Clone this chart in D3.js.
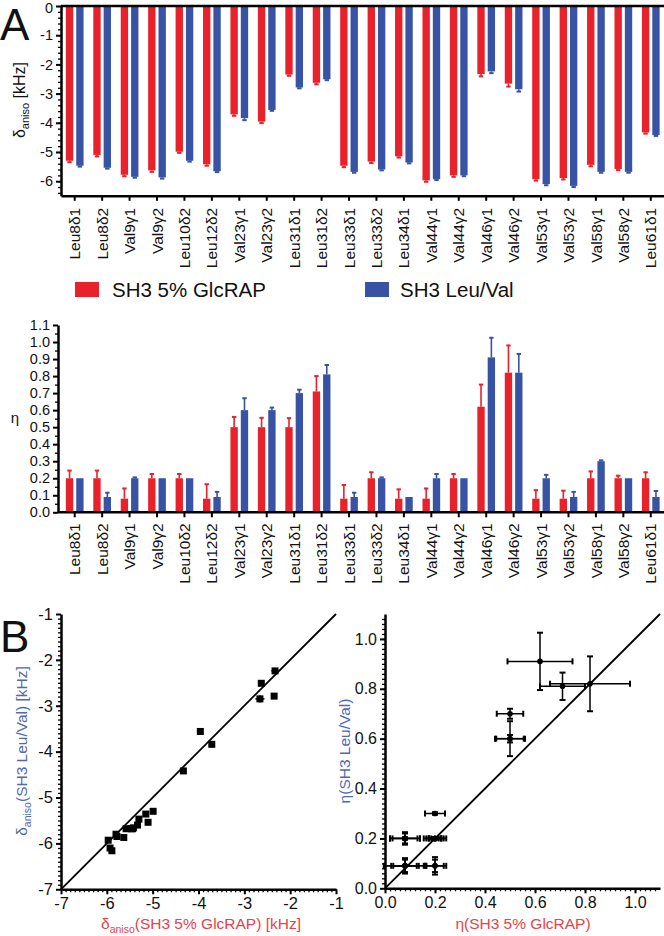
<!DOCTYPE html>
<html><head><meta charset="utf-8">
<script src="https://cdn.jsdelivr.net/npm/d3@7"></script>
<style>
body{margin:0;background:#fff}
svg{display:block}
text{font-family:"Liberation Sans",Arial,Helvetica,sans-serif;fill:#111}
</style>
</head><body><svg id="c" width="664" height="936"></svg>
<script>
// ---------- data ----------
const categories = ["Leu8δ1","Leu8δ2","Val9γ1","Val9γ2","Leu10δ2","Leu12δ2","Val23γ1","Val23γ2","Leu31δ1","Leu31δ2","Leu33δ1","Leu33δ2","Leu34δ1","Val44γ1","Val44γ2","Val46γ1","Val46γ2","Val53γ1","Val53γ2","Val58γ1","Val58γ2","Leu61δ1"];
const seriesNames = ["SH3 5% GlcRAP","SH3 Leu/Val"];
const deltaGlcRAP    = [-5.30,-5.10,-5.78,-5.63,-4.99,-5.42,-3.71,-3.96,-2.35,-2.63,-5.47,-5.33,-5.15,-5.97,-5.80,-2.33,-2.66,-5.93,-5.89,-5.44,-5.58,-4.33];
const deltaGlcRAPErr = [0.05,0.05,0.05,0.05,0.04,0.05,0.05,0.05,0.04,0.05,0.05,0.05,0.04,0.05,0.05,0.08,0.10,0.05,0.05,0.05,0.04,0.04];
const deltaLeuVal    = [-5.47,-5.54,-5.85,-5.87,-5.30,-5.66,-3.84,-3.56,-2.79,-2.51,-5.68,-5.60,-5.36,-5.93,-5.80,-2.24,-2.85,-6.10,-6.16,-5.68,-5.68,-4.42];
const deltaLeuValErr = [0.03,0.03,0.03,0.04,0.03,0.03,0.07,0.03,0.03,0.03,0.03,0.03,0.03,0.03,0.03,0.06,0.08,0.04,0.04,0.03,0.03,0.03];
const etaGlcRAP    = [0.20,0.20,0.08,0.20,0.20,0.08,0.50,0.50,0.50,0.71,0.08,0.20,0.08,0.08,0.20,0.62,0.82,0.08,0.08,0.20,0.20,0.20];
const etaGlcRAPErr = [0.045,0.045,0.06,0.025,0.025,0.085,0.06,0.055,0.053,0.09,0.08,0.035,0.055,0.06,0.025,0.13,0.16,0.05,0.047,0.04,0.015,0.035];
const etaLeuVal    = [0.20,0.09,0.20,0.20,0.20,0.09,0.60,0.60,0.70,0.81,0.09,0.20,0.09,0.20,0.20,0.91,0.82,0.20,0.09,0.30,0.20,0.09];
const etaLeuValErr = [0.0,0.025,0.005,0.0,0.0,0.03,0.07,0.015,0.02,0.055,0.025,0.005,0.0,0.025,0.0,0.115,0.11,0.02,0.03,0.005,0.0,0.035];
const deltaTicks = [0,-1,-2,-3,-4,-5,-6];
const etaTicks = [0.0,0.1,0.2,0.3,0.4,0.5,0.6,0.7,0.8,0.9,1.0,1.1];
const scatterDeltaTicks = [-7,-6,-5,-4,-3,-2,-1];
const scatterEtaTicks = [0.0,0.2,0.4,0.6,0.8,1.0];

// ---------- style ----------
const RED = "#e8212a", BLUE = "#3853a4";
const RED_T = "#e6434a", BLUE_T = "#4f68b3";
const svg = d3.select("#c");
const FS = 14.5;

function styleAxis(g, w){
  g.selectAll("path.domain").attr("stroke","#000").attr("stroke-width",w||2.5);
  g.selectAll(".tick line").attr("stroke","#000").attr("stroke-width",2);
  g.selectAll(".tick text").attr("font-size",FS).attr("fill","#111")
    .attr("font-family","'Liberation Sans',Arial,sans-serif");
}
function minor(g, axisFn, scale, values, size){
  const a = axisFn(scale).tickValues(values).tickSize(size).tickFormat("");
  g.call(a);
  g.select("path.domain").remove();
  g.selectAll(".tick line").attr("stroke","#000").attr("stroke-width",1.3);
}

// ---------- bar charts ----------
const x = d3.scaleBand().domain(categories).range([61, 664.5]).padding(0);
const sub = d3.scaleBand().domain([0,1]).range([0, x.bandwidth()]).paddingInner(0.29).paddingOuter(0.47);
const colors = [RED, BLUE];

function catLabels(g, off){
  g.selectAll(".tick text")
    .attr("transform","rotate(-90)")
    .attr("text-anchor","end")
    .attr("x",-off).attr("y",0).attr("dy","0.36em")
    .attr("font-size",15.5);
}

// top (delta)
const yD = d3.scaleLinear().domain([-6.5, 0]).range([195.8, 6]);
const topData = [[deltaGlcRAP, deltaGlcRAPErr],[deltaLeuVal, deltaLeuValErr]];
const gTop = svg.append("g");
topData.forEach(([vals, errs], s) => {
  const g = gTop.append("g");
  categories.forEach((c, i) => {
    const x0 = x(c) + sub(s), w = sub.bandwidth(), cx = x0 + w/2;
    g.append("rect").attr("x", x0).attr("y", yD(0)).attr("width", w)
      .attr("height", yD(vals[i]) - yD(0)).attr("fill", colors[s]);
    const e = yD(vals[i] - errs[i]);
    g.append("line").attr("x1",cx).attr("x2",cx).attr("y1",yD(vals[i])).attr("y2",e)
      .attr("stroke",colors[s]).attr("stroke-width",1.6);
    g.append("line").attr("x1",cx-2.2).attr("x2",cx+2.2).attr("y1",e).attr("y2",e)
      .attr("stroke",colors[s]).attr("stroke-width",2);
  });
});
gTop.append("line").attr("x1",61).attr("x2",664.5).attr("y1",yD(0)).attr("y2",yD(0))
  .attr("stroke","#000").attr("stroke-width",2.5);
const gTopMinor = svg.append("g").attr("transform","translate(61,0)");
minor(gTopMinor, d3.axisLeft, yD, d3.range(0, -6.5, -0.2).map(v=>+v.toFixed(2)), 3);
const gTopY = svg.append("g").attr("transform","translate(61,0)")
  .call(d3.axisLeft(yD).tickValues(deltaTicks).tickSize(5).tickSizeOuter(0).tickFormat(d=>String(d)));
styleAxis(gTopY);
gTopY.selectAll(".tick text").filter(d => d === 0).attr("dy","0.45em");
const gTopX = svg.append("g").attr("transform",`translate(0,${yD(-6.5)})`)
  .call(d3.axisBottom(x).tickSize(5).tickSizeOuter(0));
styleAxis(gTopX);
catLabels(gTopX, 12);
// y title
const tTop = svg.append("text").attr("transform","translate(25,100) rotate(-90)")
  .attr("text-anchor","middle").attr("font-size",16);
tTop.append("tspan").text("δ");
tTop.append("tspan").attr("font-size",11).attr("dy",4).text("aniso");
tTop.append("tspan").attr("dy",-4).text(" [kHz]");

// legend
seriesNames.forEach((n, s) => {
  const lx = [75, 365][s];
  svg.append("rect").attr("x",lx).attr("y",282).attr("width",24).attr("height",15).attr("fill",colors[s]);
  svg.append("text").attr("x",lx + [37,35][s]).attr("y",297).attr("font-size",20.5).text(n);
});

// middle (eta)
const yE = d3.scaleLinear().domain([0, 1.1]).range([512.3, 325]);
const midData = [[etaGlcRAP, etaGlcRAPErr],[etaLeuVal, etaLeuValErr]];
const gMid = svg.append("g");
midData.forEach(([vals, errs], s) => {
  const g = gMid.append("g");
  categories.forEach((c, i) => {
    const x0 = x(c) + sub(s), w = sub.bandwidth(), cx = x0 + w/2;
    g.append("rect").attr("x", x0).attr("y", yE(vals[i])).attr("width", w)
      .attr("height", yE(0) - yE(vals[i])).attr("fill", colors[s]);
    if (errs[i] > 0.001) {
      const e = yE(vals[i] + errs[i]);
      g.append("line").attr("x1",cx).attr("x2",cx).attr("y1",yE(vals[i])).attr("y2",e)
        .attr("stroke",colors[s]).attr("stroke-width",1.6);
      g.append("line").attr("x1",cx-2.2).attr("x2",cx+2.2).attr("y1",e).attr("y2",e)
        .attr("stroke",colors[s]).attr("stroke-width",2);
    }
  });
});
const gMidMinor = svg.append("g").attr("transform","translate(58,0)");
minor(gMidMinor, d3.axisLeft, yE, d3.range(0.05, 1.1, 0.1).map(v=>+v.toFixed(2)), 3);
const gMidY = svg.append("g").attr("transform","translate(58,0)")
  .call(d3.axisLeft(yE).tickValues(etaTicks).tickSize(5).tickSizeOuter(0).tickFormat(d3.format(".1f")));
styleAxis(gMidY);
const xMidAxis = d3.scaleBand().domain(categories).range([61, 664.5]);
const gMidX = svg.append("g").attr("transform",`translate(0,${yE(0)})`)
  .call(d3.axisBottom(xMidAxis).tickSize(5).tickSizeOuter(0));
styleAxis(gMidX);
gMidX.select("path.domain").attr("d","M58,0H664.5");
catLabels(gMidX, 11);
svg.append("text").attr("x",15).attr("y",423).attr("text-anchor","middle").attr("font-size",15).text("η");

// panel letters
svg.append("text").attr("x",0).attr("y",40).attr("font-size",44).text("A");
svg.append("text").attr("x",0).attr("y",652).attr("font-size",44).text("B");

// ---------- scatter left ----------
const sx = d3.scaleLinear().domain([-7,-1]).range([61, 336]);
const sy = d3.scaleLinear().domain([-7,-1]).range([889.3, 614]);
const gL = svg.append("g");
gL.append("line").attr("x1",sx(-7)).attr("y1",sy(-7)).attr("x2",sx(-1)).attr("y2",sy(-1))
  .attr("stroke","#000").attr("stroke-width",1.8);
categories.forEach((c,i) => {
  const px = sx(deltaGlcRAP[i]), py = sy(deltaLeuVal[i]);
  const ex = deltaGlcRAPErr[i], ey = deltaLeuValErr[i];
  gL.append("line").attr("x1",sx(deltaGlcRAP[i]-ex)).attr("x2",sx(deltaGlcRAP[i]+ex)).attr("y1",py).attr("y2",py).attr("stroke","#000").attr("stroke-width",1.5);
  gL.append("line").attr("x1",px).attr("x2",px).attr("y1",sy(deltaLeuVal[i]-ey)).attr("y2",sy(deltaLeuVal[i]+ey)).attr("stroke","#000").attr("stroke-width",1.5);
  gL.append("rect").attr("x",px-3.5).attr("y",py-3.5).attr("width",7).attr("height",7).attr("fill","#000");
});
const gLmx = svg.append("g").attr("transform",`translate(0,${sy(-7)})`);
minor(gLmx, d3.axisBottom, sx, d3.range(-6.9,-1,0.1).map(v=>+v.toFixed(2)), 3);
const gLmy = svg.append("g").attr("transform",`translate(${sx(-7)},0)`);
minor(gLmy, d3.axisLeft, sy, d3.range(-6.9,-1,0.1).map(v=>+v.toFixed(2)), 3);
const gLx = svg.append("g").attr("transform",`translate(0,${sy(-7)})`)
  .call(d3.axisBottom(sx).tickValues(scatterDeltaTicks).tickSize(5).tickSizeOuter(0).tickFormat(d=>String(d)));
styleAxis(gLx);
gLx.selectAll(".tick text").attr("font-size",16.5);
const gLy = svg.append("g").attr("transform",`translate(${sx(-7)},0)`)
  .call(d3.axisLeft(sy).tickValues(scatterDeltaTicks).tickSize(5).tickSizeOuter(0).tickFormat(d=>String(d)));
styleAxis(gLy);
gLy.selectAll(".tick text").attr("font-size",16.5);
const tLx = svg.append("text").attr("x",201).attr("y",929).attr("text-anchor","middle").attr("font-size",15.5).style("fill",RED_T);
tLx.append("tspan").text("δ");
tLx.append("tspan").attr("font-size",10.5).attr("dy",4).text("aniso");
tLx.append("tspan").attr("dy",-4).text("(SH3 5% GlcRAP) [kHz]");
const tLy = svg.append("text").attr("transform","translate(27,751) rotate(-90)").attr("text-anchor","middle").attr("font-size",15.5).style("fill",BLUE_T);
tLy.append("tspan").text("δ");
tLy.append("tspan").attr("font-size",10.5).attr("dy",4).text("aniso");
tLy.append("tspan").attr("dy",-4).text("(SH3 Leu/Val) [kHz]");

// ---------- scatter right ----------
const ex = d3.scaleLinear().domain([0,1.1]).range([385, 660]);
const ey = d3.scaleLinear().domain([0,1.1]).range([888.3, 614]);
const gR = svg.append("g");
gR.append("line").attr("x1",ex(0)).attr("y1",ey(0)).attr("x2",ex(1.1)).attr("y2",ey(1.1))
  .attr("stroke","#000").attr("stroke-width",1.8);
categories.forEach((c,i) => {
  const px = ex(etaGlcRAP[i]), py = ey(etaLeuVal[i]);
  const exr = etaGlcRAPErr[i], eyr = etaLeuValErr[i];
  const x1 = ex(etaGlcRAP[i]-exr), x2 = ex(etaGlcRAP[i]+exr);
  const y1 = ey(etaLeuVal[i]-eyr), y2 = ey(etaLeuVal[i]+eyr);
  gR.append("line").attr("x1",x1).attr("x2",x2).attr("y1",py).attr("y2",py).attr("stroke","#000").attr("stroke-width",1.5);
  [x1,x2].forEach(xx => gR.append("line").attr("x1",xx).attr("x2",xx).attr("y1",py-3).attr("y2",py+3).attr("stroke","#000").attr("stroke-width",2));
  if (eyr > 0.001) {
    gR.append("line").attr("x1",px).attr("x2",px).attr("y1",y1).attr("y2",y2).attr("stroke","#000").attr("stroke-width",1.5);
    [y1,y2].forEach(yy => gR.append("line").attr("x1",px-3).attr("x2",px+3).attr("y1",yy).attr("y2",yy).attr("stroke","#000").attr("stroke-width",2));
  }
  gR.append("circle").attr("cx",px).attr("cy",py).attr("r",2.8).attr("fill","#000");
});
const gRmx = svg.append("g").attr("transform",`translate(0,${ey(0)})`);
minor(gRmx, d3.axisBottom, ex, d3.range(0.02,1.1,0.02).map(v=>+v.toFixed(2)), 3);
const gRmy = svg.append("g").attr("transform",`translate(${ex(0)},0)`);
minor(gRmy, d3.axisLeft, ey, d3.range(0.02,1.1,0.02).map(v=>+v.toFixed(2)), 3);
const gRx = svg.append("g").attr("transform",`translate(0,${ey(0)})`)
  .call(d3.axisBottom(ex).tickValues(scatterEtaTicks).tickSize(5).tickSizeOuter(0).tickFormat(d3.format(".1f")));
styleAxis(gRx);
gRx.selectAll(".tick text").attr("font-size",16);
const gRy = svg.append("g").attr("transform",`translate(${ex(0)},0)`)
  .call(d3.axisLeft(ey).tickValues(scatterEtaTicks).tickSize(5).tickSizeOuter(0).tickFormat(d3.format(".1f")));
styleAxis(gRy);
gRy.selectAll(".tick text").attr("font-size",16);
svg.append("text").attr("x",523).attr("y",929).attr("text-anchor","middle").attr("font-size",15.5).style("fill",RED_T).text("η(SH3 5% GlcRAP)");
svg.append("text").attr("transform","translate(350,751) rotate(-90)").attr("text-anchor","middle").attr("font-size",15.5).style("fill",BLUE_T).text("η(SH3 Leu/Val)");
</script>
</body></html>
